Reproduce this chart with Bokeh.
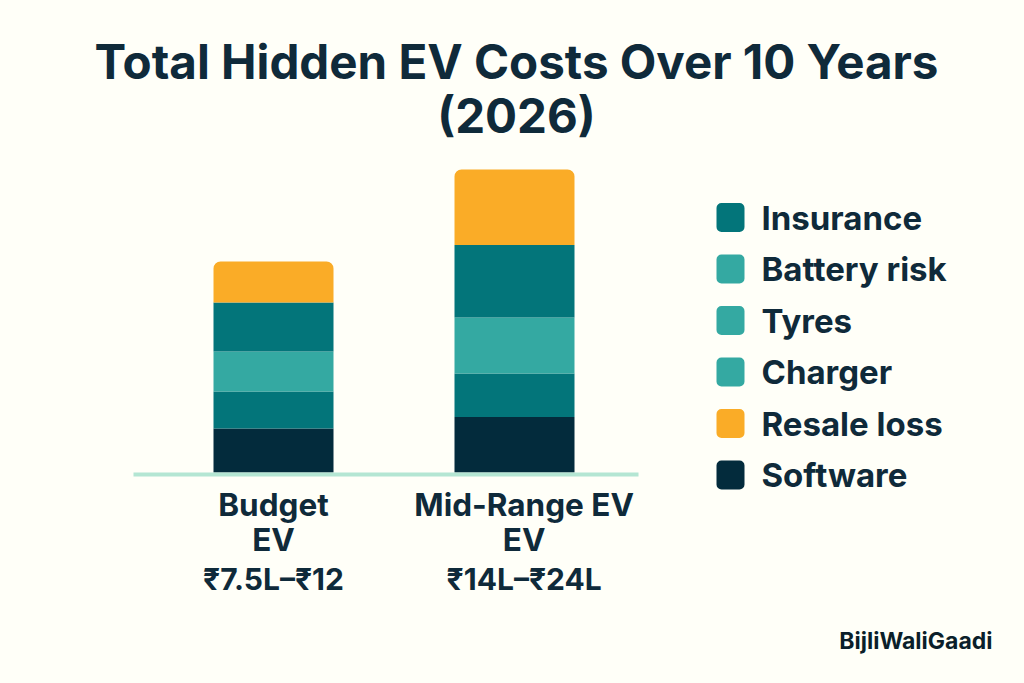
from bokeh.plotting import figure
from bokeh.core.properties import value
from bokeh.models import Range1d, LinearAxis, FixedTicker, ColumnDataSource, Label
from bokeh.embed import file_html
from bokeh.resources import INLINE

# ---- data ----
vehicles = ["Budget\nEV", "Mid-Range EV\nEV"]
prices = ["₹7.5L–₹12", "₹14L–₹24L"]
software = [4.4, 5.55]
insurance_low = [3.7, 4.35]
battery_risk = [4.0, 5.6]
insurance_high = [4.9, 7.25]
resale_loss = [4.1, 7.55]
legend_labels = ["Insurance", "Battery risk", "Tyres", "Charger", "Resale loss", "Software"]
title_text = "Total Hidden EV Costs Over 10 Years\n(2026)"
credit_text = "BijliWaliGaadi"

# ---- style ----
BG = "#FFFFF8"; INK = "#0F2A3A"; DARK = "#032B3C"; TEAL = "#03757A"; LIGHT = "#34A9A2"; ORANGE = "#FAAC27"
RULE = "#B4E6D3"
FONT = "Inter"
W, H = 1016, 675
BAR_STEP = 241.0      # px between bar centres
PX_PER_UNIT = 10.0    # px per value unit
ORIGIN_PX = (273.0, 472.0)  # page position of first bar centre and baseline

x0 = -ORIGIN_PX[0] / BAR_STEP
y0 = -(H - ORIGIN_PX[1]) / PX_PER_UNIT
def X(px): return x0 + px / BAR_STEP
def Y(py): return y0 + (H - py) / PX_PER_UNIT

p = figure(width=W, height=H, output_backend="svg", toolbar_location=None,
           x_range=Range1d(x0, x0 + W / BAR_STEP), y_range=Range1d(y0, y0 + H / PX_PER_UNIT),
           x_axis_location=None, y_axis_location=None, min_border=0,
           background_fill_color=BG, border_fill_color=BG, outline_line_color=None)
p.grid.visible = False

xs = list(range(len(vehicles)))
label_xs = [0.0, 1.04]   # the second group's labels sit a little right of its bar
layers = [software, insurance_low, battery_risk, insurance_high, resale_loss]
colors = [DARK, TEAL, LIGHT, TEAL, ORANGE]
bottom = [0.0] * len(xs)
BAR_W = 120 / BAR_STEP
for i, (vals, c) in enumerate(zip(layers, colors)):
    top = [b + v for b, v in zip(bottom, vals)]
    kw = {"border_radius": (7, 7, 0, 0)} if i == len(layers) - 1 else {}
    p.vbar(x=xs, bottom=bottom, top=top, width=BAR_W, fill_color=c, line_color=None, **kw)
    bottom = top

# baseline and category labels
axis = LinearAxis(fixed_location=Y(473.5), ticker=FixedTicker(ticks=label_xs),
                  major_label_overrides=dict(zip(label_xs, vehicles)),
                  bounds=(X(133), X(638)), axis_line_color=RULE, axis_line_width=4,
                  major_tick_line_color=None, minor_tick_line_color=None,
                  major_label_text_font=FONT, major_label_text_font_style="bold",
                  major_label_text_font_size="31.5px", major_label_text_color=INK,
                  major_label_text_line_height=0.895, major_label_standoff=5)
p.add_layout(axis, "below")

price_src = ColumnDataSource(dict(x=label_xs, y=[Y(578.5)] * len(xs), t=prices))
p.text(x="x", y="y", text="t", source=price_src, text_font=value(FONT), text_font_style="bold",
       text_font_size="30px", text_color=INK, text_align="center", text_baseline="middle")

# legend
swatch_colors = [TEAL, LIGHT, LIGHT, LIGHT, ORANGE, DARK]
centers = [217 + 51.5 * i for i in range(len(legend_labels))]
p.quad(left=[X(716)] * 6, right=[X(744)] * 6,
       top=[Y(c - 14.5) for c in centers], bottom=[Y(c + 14.5) for c in centers],
       fill_color=swatch_colors, line_color=None, border_radius=5)
leg_src = ColumnDataSource(dict(x=[X(761)] * 6, y=[Y(c) for c in centers], t=legend_labels))
p.text(x="x", y="y", text="t", source=leg_src, text_font=value(FONT), text_font_style="bold",
       text_font_size="33px", text_color=INK, text_align="left", text_baseline="middle")

# title & credit
p.add_layout(Label(x=X(516), y=Y(88), text=title_text, text_font=FONT, text_font_style="bold",
                   text_font_size="47.5px", text_color=INK, text_align="center",
                   text_baseline="middle", text_line_height=0.955))
p.add_layout(Label(x=X(992), y=Y(640), text=credit_text, text_font=FONT, text_font_style="bold",
                   text_font_size="23px", text_color="#0B1F2A", text_align="right",
                   text_baseline="middle"))

html = file_html(p, INLINE)
html = html.replace("</head>", f"<style>html,body{{background:{BG};}}</style></head>", 1)
open("out.html", "w").write(html)
